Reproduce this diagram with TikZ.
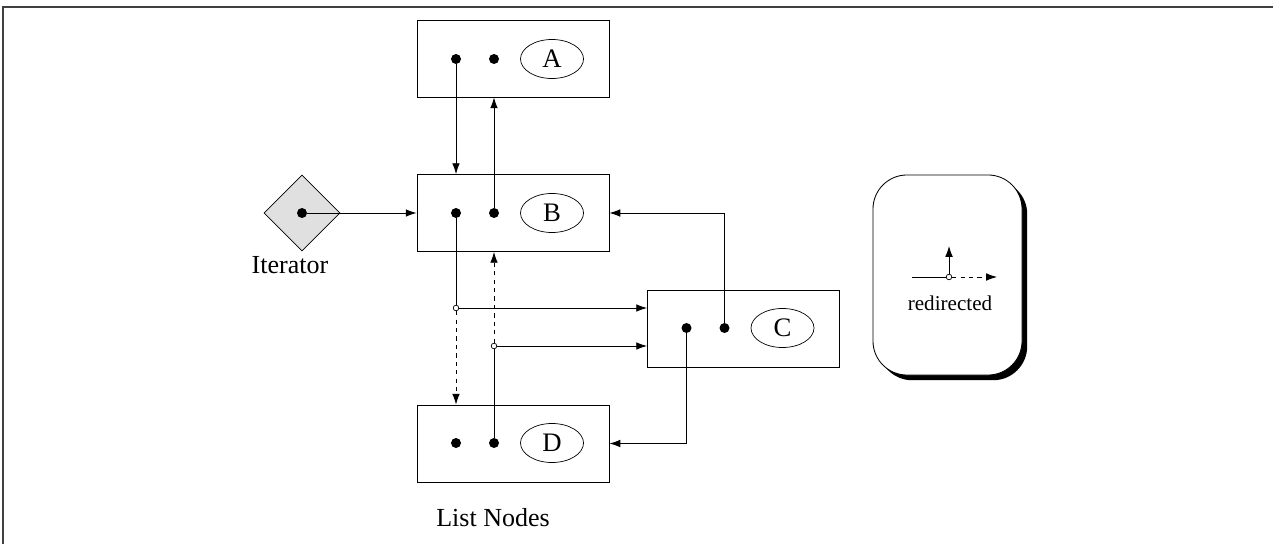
\documentclass[tikz,border=0pt]{standalone}
\usepackage{fontspec}
\setmainfont{Liberation Serif}
\usetikzlibrary{arrows.meta,shapes.geometric,shadows}

\begin{document}
\begin{tikzpicture}[
    x=0.025cm, y=-0.025cm,
    >={Latex[length=0.27cm,width=0.19cm]},
    listnode/.style={rectangle, draw, line width=0.6pt, minimum width=4.8cm, minimum height=1.925cm, inner sep=0pt},
    dot/.style={circle, fill=black, inner sep=0pt, minimum size=0.25cm},
    junction/.style={circle, draw, line width=0.5pt, fill=white, inner sep=0pt, minimum size=0.14cm},
    nametag/.style={ellipse, draw, line width=0.5pt, minimum width=1.575cm, minimum height=0.975cm, inner sep=0pt, font=\fontsize{19}{21}\selectfont},
    link/.style={draw, ->, line width=0.6pt},
    notetext/.style={font=\fontsize{18.5}{21}\selectfont}
]
\useasboundingbox (0,0) rectangle (1273,544);
\draw[line width=0.8pt, black!75] (3,544) -- (3,7) -- (1273,7);

% Define list nodes
\node[listnode] (A) at (513,58.5) {};
\node[listnode] (B) at (513,213) {};
\node[listnode] (C) at (743.5,328.5) {};
\node[listnode] (D) at (513,443.5) {};
\foreach \n/\x/\y in {a/513/59, b/513/213, c/743.5/328, d/513/443} {
    \node[dot] (\n1) at (\x-57,\y) {};
    \node[dot] (\n2) at (\x-19,\y) {};
}
\node[nametag] (tA) at (552,59) {A};
\node[nametag] (tB) at (552,213) {B};
\node[nametag] (tC) at (782.5,328) {C};
\node[nametag] (tD) at (552,443) {D};
\node[notetext] (list) at (493,518) {List Nodes};

% Define iterator
\node[diamond, draw, line width=0.5pt, fill=black!12, minimum width=1.9cm, minimum height=1.9cm, inner sep=0pt] (iter) at (302,213) {};
\node[dot] (it) at (302,213) {};
\node[notetext] (itname) at (290,265) {Iterator};

% Define links
\node[junction] (j1) at (456,308) {};
\node[junction] (j2) at (494,346) {};
\path[link] (it) -- (B.west);
\path[link] (a1) -- (a1 |- B.north);
\path[link] (b2) -- (b2 |- A.south);
\path[draw, line width=0.6pt] (b1) -- (j1);
\path[link, dashed] (j1) -- (j1 |- D.north);
\path[link] (j1) -- (C.west |- j1);
\path[draw, line width=0.6pt] (d2) -- (j2);
\path[link, dashed] (j2) -- (j2 |- B.south);
\path[link] (j2) -- (C.west |- j2);
\path[link] (c2) |- (B.east);
\path[link] (c1) |- (D.east);

% Define legend
\node[draw, line width=0.6pt, fill=white, rounded corners=0.85cm, minimum width=3.725cm, minimum height=5cm,
      drop shadow={shadow xshift=0.13cm, shadow yshift=-0.13cm, fill=black, opacity=1}] (legend) at (947.5,275) {};
\coordinate (l0) at (912,277);
\coordinate (l1) at (997,277);
\coordinate (lu) at (949,246);
\node[junction] (lj) at (949,277) {};
\path[draw, line width=0.6pt] (l0) -- (lj);
\path[link, dashed] (lj) -- (l1);
\path[link] (lj) -- (lu);
\node[font=\fontsize{15}{17}\selectfont] (redir) at (950,303) {redirected};

\end{tikzpicture}
\end{document}
